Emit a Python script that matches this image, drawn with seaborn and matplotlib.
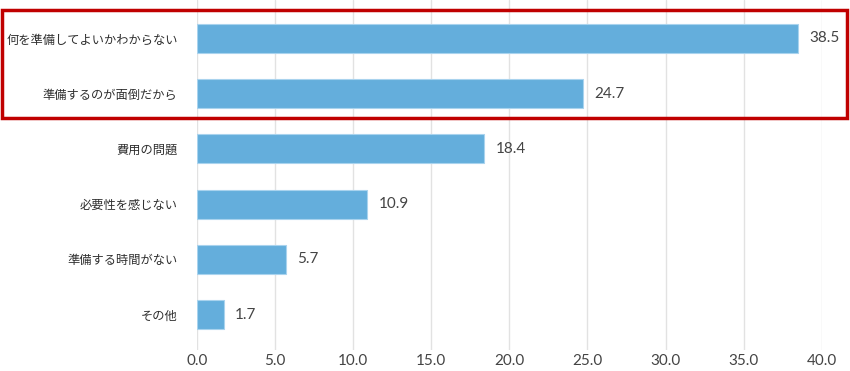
import numpy as np
import pandas as pd
import matplotlib.pyplot as plt
import seaborn as sns
from matplotlib.patches import Rectangle

categories = ["何を準備してよいかわからない", "準備するのが面倒だから", "費用の問題",
              "必要性を感じない", "準備する時間がない", "その他"]
values = [38.5, 24.7, 18.4, 10.9, 5.7, 1.7]
x_ticks = [0, 5, 10, 15, 20, 25, 30, 35, 40]

BAR_COLOR = "#64aedc"
TEXT_COLOR = "#444444"

sns.set_theme(style="white")
plt.rcParams['font.family'] = ['Noto Sans CJK JP', 'DejaVu Sans']

df = pd.DataFrame({"label": categories, "value": values})

fig = plt.figure(figsize=(8.5, 3.71), dpi=100)
ax = fig.add_axes([0.2318, 0.0566, 0.735, 0.9434])

sns.barplot(data=df, x="value", y="label", orient="h", color=BAR_COLOR,
            width=0.525, edgecolor="#a9d3ee", linewidth=0.8, saturation=1, ax=ax)

for container in ax.containers:
    ax.bar_label(container, labels=[f"{v:.1f}" for v in values], padding=8,
                 fontsize=11, color=TEXT_COLOR, family=['Lato', 'DejaVu Sans'])

ax.set_xlim(0, 40)
ax.set_ylim(5.643, -0.697)
ax.set_xticks(x_ticks)
ax.set_xticklabels([f"{t:.1f}" for t in x_ticks], fontsize=11, color=TEXT_COLOR,
                   family=['Lato', 'DejaVu Sans'])
ax.tick_params(axis="x", length=0, pad=3)
ax.tick_params(axis="y", length=0, pad=14, labelsize=8.8, labelcolor="#2e2e2e")
ax.xaxis.grid(True, color="#e2e2e2", linewidth=1)
ax.set_axisbelow(True)
ax.set_xlabel("")
ax.set_ylabel("")
sns.despine(ax=ax, left=True, bottom=True, top=True, right=True)

# red frame around the top two reasons
fig.patches.append(Rectangle((2 / 850, 1 - 118 / 371), 845 / 850, 108 / 371,
                             transform=fig.transFigure, fill=False,
                             edgecolor="#c00000", linewidth=2.5, zorder=10))

plt.savefig("out.png", dpi=100)
plt.close()
